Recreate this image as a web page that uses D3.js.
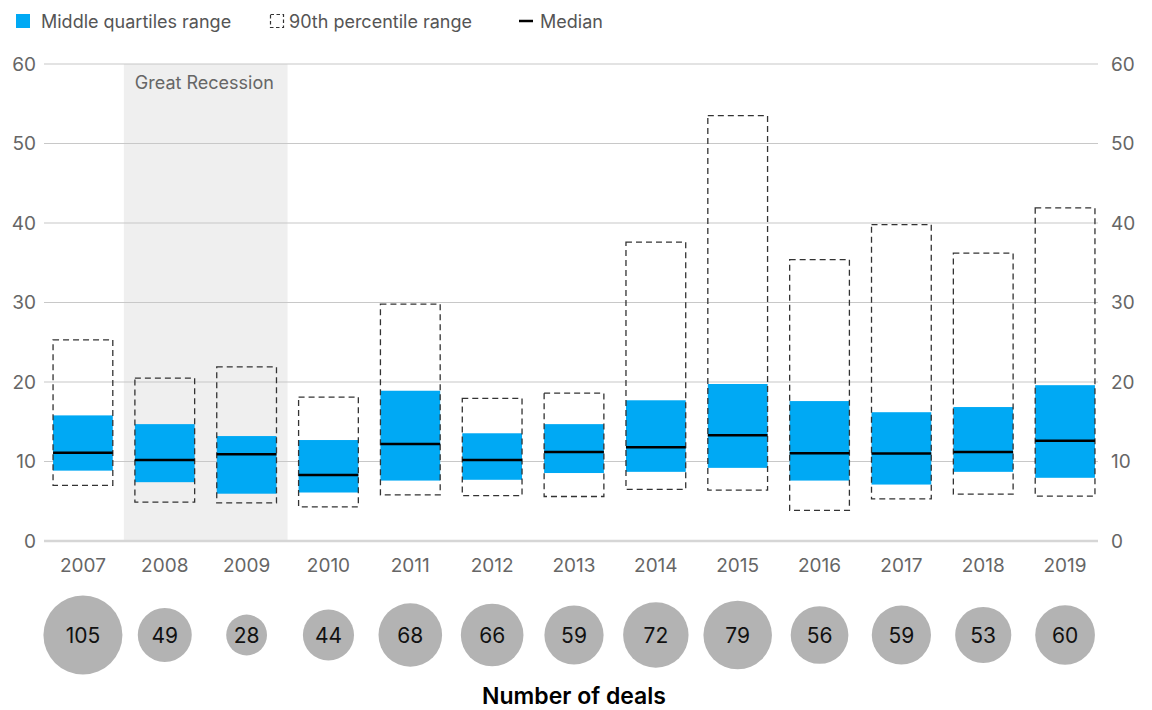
<!DOCTYPE html>
<html>
<head>
<meta charset="utf-8">
<script src="https://cdn.jsdelivr.net/npm/d3@7"></script>
<style>
  body { margin: 0; background: #fff; }
  text { font-family: Inter, "Liberation Sans", Arial, sans-serif; }
</style>
</head>
<body>
<svg id="chart" width="1152" height="710"></svg>
<script>
"use strict";

const years = ["2007", "2008", "2009", "2010", "2011", "2012", "2013", "2014", "2015", "2016", "2017", "2018", "2019"];
const p90High = [25.3, 20.5, 21.9, 18.1, 29.8, 17.95, 18.6, 37.6, 53.5, 35.4, 39.8, 36.2, 41.9];
const p90Low = [7.0, 4.9, 4.8, 4.3, 5.8, 5.7, 5.6, 6.5, 6.4, 3.85, 5.3, 5.9, 5.65];
const q3 = [15.8, 14.7, 13.2, 12.7, 18.9, 13.55, 14.7, 17.7, 19.75, 17.6, 16.2, 16.85, 19.6];
const q1 = [8.85, 7.4, 5.95, 6.1, 7.6, 7.7, 8.55, 8.7, 9.2, 7.6, 7.1, 8.7, 7.95];
const medians = [11.1, 10.2, 10.9, 8.3, 12.2, 10.2, 11.2, 11.8, 13.3, 11.05, 11.0, 11.2, 12.6];
const deals = [105, 49, 28, 44, 68, 66, 59, 72, 79, 56, 59, 53, 60];
const yTicks = [0, 10, 20, 30, 40, 50, 60];
const recessionYears = ["2008", "2009"];

const svg = d3.select("#chart");
const blue = "#00a9f4";
const grey = "#666";
const font = "Inter, Liberation Sans, Arial, sans-serif";

const x = d3.scaleBand().domain(years).range([42, 1106]).padding(0);
const y = d3.scaleLinear().domain([0, 60]).range([541, 64]);
const r = d3.scaleSqrt().domain([0, 105]).range([0, 39.5]);
const barW = x.bandwidth() * 0.73;
const cx = (d) => x(d) + x.bandwidth() / 2;

// great recession shading
svg.append("rect")
  .attr("x", x(recessionYears[0]))
  .attr("y", y(60))
  .attr("width", x.bandwidth() * recessionYears.length)
  .attr("height", y(0) - y(60))
  .attr("fill", "#efefef");

svg.append("text")
  .attr("x", x(recessionYears[0]) + 11)
  .attr("y", 89)
  .attr("font-size", 18)
  .attr("fill", grey)
  .text("Great Recession");

// gridlines
svg.append("g")
  .selectAll("line")
  .data(yTicks)
  .join("line")
  .attr("x1", 44)
  .attr("x2", 1098)
  .attr("y1", (d) => y(d))
  .attr("y2", (d) => y(d))
  .attr("stroke", (d) => (d === 0 ? "#d6d6d6" : "#c8c8c8"))
  .attr("stroke-width", (d) => (d === 0 ? 2.5 : 1.2));

// axis labels left and right
const axisL = d3.axisLeft(y).tickValues(yTicks).tickSize(0).tickPadding(0);
const axisR = d3.axisRight(y).tickValues(yTicks).tickSize(0).tickPadding(0);
const gl = svg.append("g").attr("transform", "translate(36,0)").call(axisL);
const gr = svg.append("g").attr("transform", "translate(1111,0)").call(axisR);
[gl, gr].forEach((g) => {
  g.select(".domain").remove();
  g.selectAll("text").attr("font-size", 19).attr("fill", grey).attr("font-family", font);
});

// year labels
svg.append("g")
  .selectAll("text")
  .data(years)
  .join("text")
  .attr("x", cx)
  .attr("y", 572)
  .attr("text-anchor", "middle")
  .attr("font-size", 19)
  .attr("fill", grey)
  .text((d) => d);

const rows = years.map((yr, i) => ({
  yr: yr, hi: p90High[i], lo: p90Low[i], q3: q3[i], q1: q1[i], med: medians[i], n: deals[i],
}));

// interquartile bars
svg.append("g")
  .selectAll("rect")
  .data(rows)
  .join("rect")
  .attr("x", (d) => cx(d.yr) - barW / 2)
  .attr("y", (d) => y(d.q3))
  .attr("width", barW)
  .attr("height", (d) => y(d.q1) - y(d.q3))
  .attr("fill", blue);

// 90th percentile dashed boxes
svg.append("g")
  .selectAll("rect")
  .data(rows)
  .join("rect")
  .attr("x", (d) => cx(d.yr) - barW / 2)
  .attr("y", (d) => y(d.hi))
  .attr("width", barW)
  .attr("height", (d) => y(d.lo) - y(d.hi))
  .attr("fill", "none")
  .attr("stroke", "#333")
  .attr("stroke-width", 1.3)
  .attr("stroke-dasharray", "6,4");

// median lines
svg.append("g")
  .selectAll("line")
  .data(rows)
  .join("line")
  .attr("x1", (d) => cx(d.yr) - barW / 2)
  .attr("x2", (d) => cx(d.yr) + barW / 2)
  .attr("y1", (d) => y(d.med))
  .attr("y2", (d) => y(d.med))
  .attr("stroke", "#000")
  .attr("stroke-width", 2.5);

// deal bubbles
const bub = svg.append("g")
  .selectAll("g")
  .data(rows)
  .join("g")
  .attr("transform", (d) => `translate(${cx(d.yr)},635)`);

bub.append("circle")
  .attr("r", (d) => r(d.n))
  .attr("fill", "#b3b3b3");

bub.append("text")
  .attr("text-anchor", "middle")
  .attr("dy", "0.36em")
  .attr("font-size", 21)
  .attr("fill", "#111")
  .text((d) => d.n);

svg.append("text")
  .attr("x", 574)
  .attr("y", 704)
  .attr("text-anchor", "middle")
  .attr("font-size", 23)
  .attr("font-weight", 600)
  .attr("fill", "#000")
  .text("Number of deals");

// legend
const lg = svg.append("g");
lg.append("rect").attr("x", 16).attr("y", 14).attr("width", 14).attr("height", 14).attr("fill", blue);
lg.append("text").attr("x", 41).attr("y", 28).attr("font-size", 18).attr("fill", "#555").text("Middle quartiles range");
lg.append("rect").attr("x", 270.5).attr("y", 14.5).attr("width", 13).attr("height", 13)
  .attr("fill", "none").attr("stroke", "#333").attr("stroke-width", 1.2).attr("stroke-dasharray", "3.5,2.5");
lg.append("text").attr("x", 289).attr("y", 28).attr("font-size", 18).attr("fill", "#555").text("90th percentile range");
lg.append("line").attr("x1", 519).attr("x2", 533).attr("y1", 21).attr("y2", 21).attr("stroke", "#000").attr("stroke-width", 2.5);
lg.append("text").attr("x", 540).attr("y", 28).attr("font-size", 18).attr("fill", "#555").text("Median");
</script>
</body>
</html>
